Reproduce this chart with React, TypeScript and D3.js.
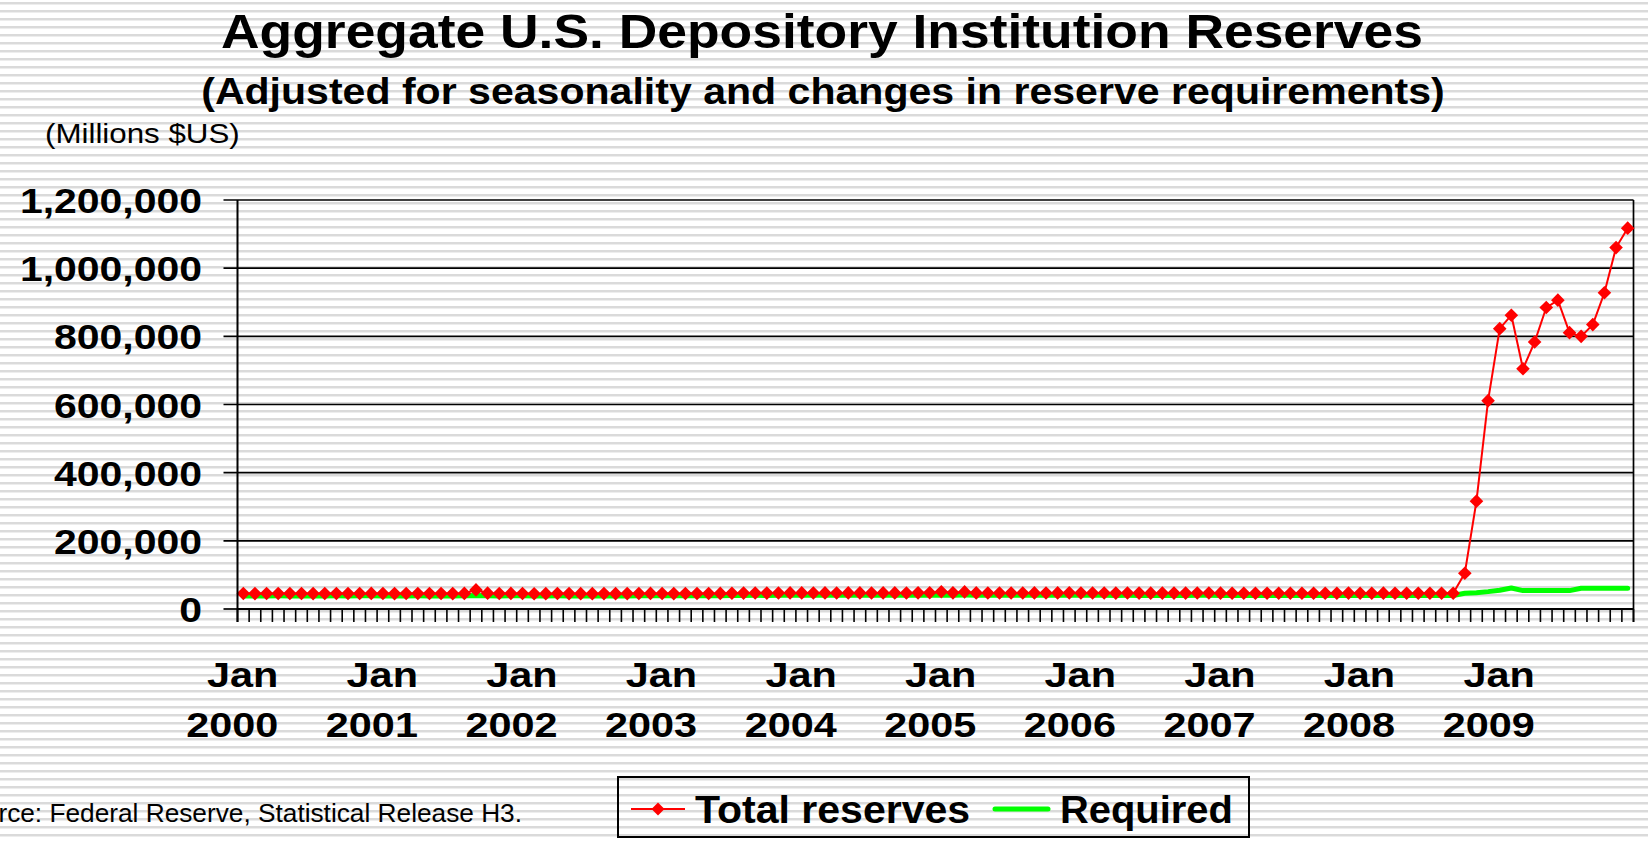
import React from "react";
import * as d3 from "d3";

// ---------- DATA ----------
const years = [2000, 2001, 2002, 2003, 2004, 2005, 2006, 2007, 2008, 2009];
const monthNames = ["Jan", "Feb", "Mar", "Apr", "May", "Jun", "Jul", "Aug", "Sep", "Oct", "Nov", "Dec"];
const categories: string[] = years.flatMap((y) => monthNames.map((m) => `${m} ${y}`));

// Total reserves (millions $US), monthly Jan 2000 – Dec 2009
const totalReserves: number[] = [
  45500, 45200, 45300, 45600, 45400, 45300, 45200, 45400, 45500, 45300, 45600, 45800,
  45400, 45200, 45300, 45500, 45300, 45400, 45200, 45700, 56000, 46500, 45400, 45800,
  45300, 44900, 45100, 45300, 45200, 45100, 45000, 45200, 45100, 45200, 45400, 45700,
  45300, 45200, 45300, 45400, 45500, 45700, 46200, 46600, 46800, 46700, 46900, 47200,
  47300, 47000, 47200, 47100, 47300, 47200, 47000, 47200, 47300, 47100, 47400, 47600,
  50500, 47400, 50200, 47300, 47100, 47000, 46900, 47100, 47200, 47000, 47200, 47400,
  47000, 46800, 46900, 46700, 46800, 46600, 46500, 46600, 46700, 46600, 46800, 47000,
  46500, 46400, 46300, 46200, 46300, 46100, 46000, 46200, 46300, 46100, 46400, 46600,
  46200, 46000, 46500, 46300, 46100, 46000, 46200, 46300, 46400, 105000, 316500, 611300,
  822600, 862000, 704700, 783300, 884500, 906100, 810800, 800000, 834400, 927700, 1060400, 1117400,
];

// Required reserves (millions $US)
const requiredReserves: number[] = [
  38500, 38300, 38400, 38600, 38500, 38400, 38300, 38500, 38600, 38400, 38600, 38800,
  38500, 38300, 38400, 38600, 38400, 38500, 38300, 38600, 39500, 38800, 38500, 38800,
  38600, 38300, 38500, 38600, 38500, 38400, 38300, 38500, 38400, 38500, 38700, 39000,
  38800, 38700, 38800, 38900, 39000, 39200, 39500, 39800, 40000, 39900, 40100, 40300,
  40400, 40200, 40300, 40200, 40400, 40300, 40100, 40300, 40400, 40200, 40500, 40700,
  41000, 40500, 40800, 40400, 40300, 40200, 40100, 40300, 40400, 40200, 40400, 40600,
  40200, 40000, 40100, 39900, 40000, 39800, 39700, 39800, 39900, 39800, 40000, 40200,
  39800, 39700, 39600, 39500, 39600, 39400, 39300, 39500, 39600, 39400, 39700, 39900,
  39600, 39400, 39800, 39600, 39500, 39400, 39600, 39700, 39800, 46000, 48000, 51000,
  55000, 61500, 54000, 54000, 54000, 54000, 54000, 61000, 61000, 61000, 61000, 61000,
];

const yTicks = [0, 200000, 400000, 600000, 800000, 1000000, 1200000];
const seriesNames = ["Total reserves", "Required"];

const titleText = "Aggregate U.S. Depository Institution Reserves";
const subtitleText = "(Adjusted for seasonality and changes in reserve requirements)";
const unitText = "(Millions $US)";
const sourceText = "Source: Federal Reserve, Statistical Release H3.";

// ---------- LAYOUT ----------
const W = 1648;
const H = 841;
const plotLeft = 237.5;
const plotRight = 1633.5;
const plotTop = 200;
const plotBottom = 609;
const FONT = "'Liberation Sans', Arial, Helvetica, sans-serif";

function SText(props: {
  x: number;
  y: number;
  sx?: number;
  size: number;
  bold?: boolean;
  anchor?: "start" | "middle" | "end";
  children: React.ReactNode;
}) {
  const { x, y, sx = 1, size, bold, anchor = "start", children } = props;
  return (
    <g transform={`translate(${x},${y}) scale(${sx},1)`}>
      <text
        x={0}
        y={0}
        fontFamily={FONT}
        fontSize={size}
        fontWeight={bold ? "bold" : "normal"}
        textAnchor={anchor}
        fill="#000"
      >
        {children}
      </text>
    </g>
  );
}

const diamond = (r: number) => `M0,${-r}L${r},0L0,${r}L${-r},0Z`;

export default function App() {
  const x = d3.scaleBand<string>().domain(categories).range([plotLeft, plotRight]).paddingInner(0).paddingOuter(0);
  const bw = x.bandwidth();
  const cx = (i: number) => (x(categories[i]) as number) + bw / 2;
  const y = d3.scaleLinear().domain([0, 1200000]).range([plotBottom, plotTop]);

  const line = d3
    .line<number>()
    .x((_, i) => cx(i))
    .y((d) => y(d));

  const fmt = d3.format(",");
  const boundaries = d3.range(categories.length + 1).map((i) => plotLeft + i * bw);

  return (
    <div style={{ position: "absolute", left: 0, top: 0, width: W, height: H }}>
      <svg width={W} height={H} style={{ display: "block" }}>
        <defs>
          <pattern id="stripes" width={8} height={8} patternUnits="userSpaceOnUse" y={2}>
            <rect width={8} height={8} fill="#ffffff" />
            <rect y={0} width={8} height={2} fill="#dadada" />
            <rect y={2} width={8} height={1} fill="#ededed" />
          </pattern>
        </defs>
        <rect width={W} height={H} fill="url(#stripes)" />

        {/* Titles */}
        <SText x={822} y={48} size={49} sx={1.09} bold anchor="middle">
          {titleText}
        </SText>
        <SText x={823} y={104} size={37} sx={1.11} bold anchor="middle">
          {subtitleText}
        </SText>
        <SText x={45} y={143} size={27} sx={1.16}>
          {unitText}
        </SText>

        {/* Gridlines & y ticks */}
        {yTicks.map((t) => (
          <line
            key={`g${t}`}
            x1={plotLeft - 14}
            x2={t === 0 ? plotLeft : plotRight}
            y1={y(t)}
            y2={y(t)}
            stroke="#000"
            strokeWidth={1.7}
          />
        ))}
        {yTicks.map((t) => (
          <SText key={`yl${t}`} x={202} y={y(t) + 13} size={35} sx={1.17} bold anchor="end">
            {fmt(t)}
          </SText>
        ))}

        {/* right border */}
        <line x1={plotRight} x2={plotRight} y1={plotTop} y2={plotBottom + 13} stroke="#000" strokeWidth={1.7} />
        {/* x category ticks */}
        {boundaries.map((bx, i) => (
          <line key={`xt${i}`} x1={bx} x2={bx} y1={plotBottom} y2={plotBottom + 13} stroke="#000" strokeWidth={1.6} />
        ))}

        {/* Series */}
        <path
          d={line(requiredReserves) || ""}
          fill="none"
          stroke="#00ff00"
          strokeWidth={5}
          strokeLinejoin="round"
          strokeLinecap="round"
        />
        <path d={line(totalReserves) || ""} fill="none" stroke="#ff0000" strokeWidth={2} />
        {totalReserves.map((v, i) => (
          <path key={`m${i}`} d={diamond(6.8)} transform={`translate(${cx(i)},${y(v)})`} fill="#ff0000" />
        ))}

        {/* Axes */}
        <line x1={plotLeft} x2={plotLeft} y1={plotTop} y2={plotBottom + 13} stroke="#000" strokeWidth={2} />
        <line x1={plotLeft} x2={plotRight} y1={plotBottom} y2={plotBottom} stroke="#000" strokeWidth={2} />

        {/* X labels (lines right-aligned within the label block) */}
        {categories.map((c, i) =>
          c.startsWith("Jan") ? (
            <g key={`xl${i}`}>
              <SText x={cx(i) + 35} y={687} size={36} sx={1.15} bold anchor="end">
                {c.split(" ")[0]}
              </SText>
              <SText x={cx(i) + 35} y={737} size={36} sx={1.15} bold anchor="end">
                {c.split(" ")[1]}
              </SText>
            </g>
          ) : null
        )}

        {/* Source */}
        <SText x={522} y={822} size={25} sx={1.05} anchor="end">
          {sourceText}
        </SText>

        {/* Legend */}
        <rect x={618} y={777} width={631} height={60} fill="none" stroke="#000" strokeWidth={2} />
        <line x1={631} x2={685} y1={809} y2={809} stroke="#ff0000" strokeWidth={2} />
        <path d={diamond(6.5)} transform="translate(658,809)" fill="#ff0000" />
        <SText x={695} y={823} size={38} sx={1.08} bold>
          {seriesNames[0]}
        </SText>
        <line x1={995} x2={1048} y1={809} y2={809} stroke="#00ff00" strokeWidth={5} strokeLinecap="round" />
        <SText x={1060} y={823} size={38} sx={1.05} bold>
          {seriesNames[1]}
        </SText>
      </svg>
    </div>
  );
}
